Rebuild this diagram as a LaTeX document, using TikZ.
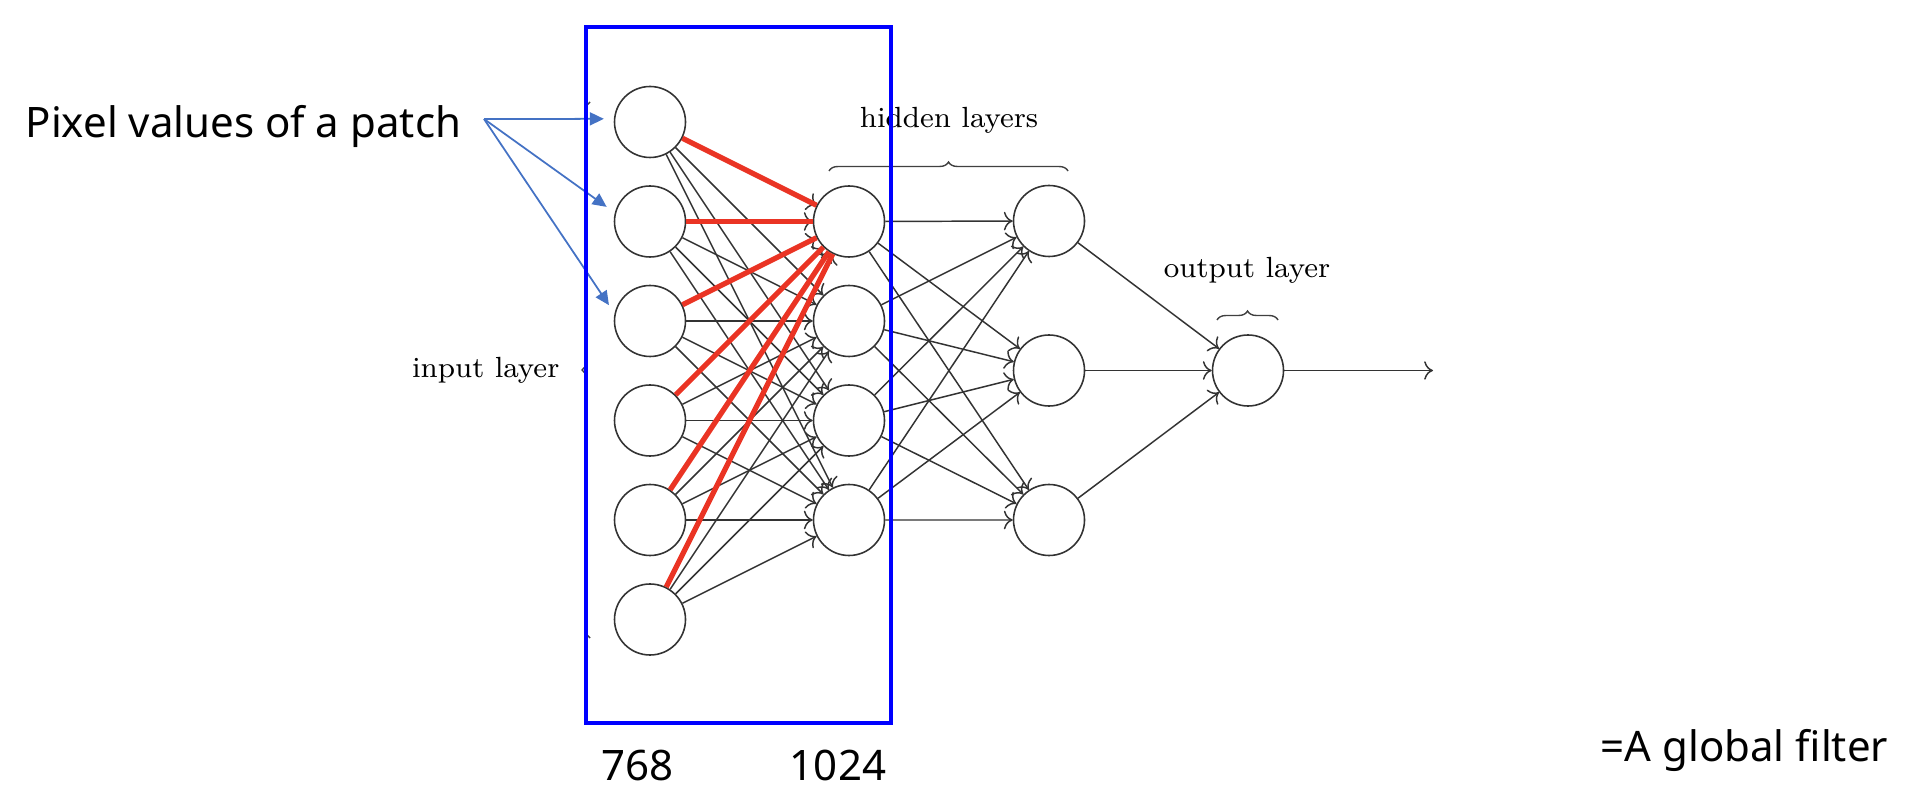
\documentclass[tikz,border=0pt]{standalone}
\usepackage{fontspec}
\usepackage{xcolor}
\usepackage{tikz}
\usetikzlibrary{arrows.meta,decorations.pathreplacing}
\newfontfamily\notosans{Noto Sans}
\definecolor{filterred}{RGB}{234,52,36}
\definecolor{patchblue}{RGB}{68,114,196}
\definecolor{boxblue}{RGB}{0,0,255}

\begin{document}
\begin{tikzpicture}[
        neuron/.style={circle, draw=black!80, line width=0.45pt, minimum size=0.71cm, inner sep=0pt},
        edge/.style={->, black!80, line width=0.42pt},
        filterline/.style={filterred, line width=1.5pt},
        patcharrow/.style={-{Triangle[length=0.14cm,width=0.13cm]}, patchblue, line width=0.5pt, shorten >=0.1cm},
        annot/.style={inner sep=0pt, font=\fontsize{8.3}{10}\selectfont},
        bigtext/.style={inner sep=0pt, font=\notosans\fontsize{11.95}{14}\selectfont},
        layerbrace/.style={decorate, decoration={brace, amplitude=0.09cm}, black!75, line width=0.4pt}
    ]
        \useasboundingbox (0,0) rectangle (19.18,7.88);

        % Input layer
        \foreach \i in {1,...,6}
            \node[neuron] (in-\i) at (6.50, 7.655-0.995*\i) {};

        % Hidden layers
        \foreach \j in {1,...,4}
            \node[neuron] (ha-\j) at (8.49, 6.66-0.995*\j) {};
        \foreach \k/\y in {1/5.67, 2/4.175, 3/2.68}
            \node[neuron] (hb-\k) at (10.49, \y) {};

        % Output layer
        \node[neuron] (out) at (12.48, 4.175) {};
        \coordinate (outend) at (14.33, 4.175);

        % Connections
        \foreach \i in {1,...,6}
            \foreach \j in {1,...,4}
                \draw[edge] (in-\i) -- (ha-\j);
        \foreach \j in {1,...,4}
            \foreach \k in {1,...,3}
                \draw[edge] (ha-\j) -- (hb-\k);
        \foreach \k in {1,...,3}
            \draw[edge] (hb-\k) -- (out);
        \draw[edge] (out) -- (outend);

        % Layer labels
        \draw[layerbrace, decoration={brace, amplitude=0.08cm}] (5.90,1.50) -- (5.90,6.86);
        \node[annot, anchor=base east] (inlbl) at (5.60,4.10) {input layer};
        \draw[layerbrace] (8.29,6.17) -- (10.68,6.17);
        \node[annot, anchor=base] (hidlbl) at (9.49,6.60) {hidden layers};
        \draw[layerbrace] (12.17,4.68) -- (12.78,4.68);
        \node[annot, anchor=base] (outlbl) at (12.47,5.10) {output layer};

        % Filter weights
        \foreach \i in {1,...,6}
            \draw[filterline] (in-\i) -- (ha-1);

        % Patch
        \node[bigtext, anchor=base west] (pixlbl) at (0.25,6.50) {Pixel values of a patch};
        \coordinate (src) at (4.84,6.69);
        \draw[patcharrow] (src) -- (in-1.175);
        \draw[patcharrow] (src) -- (in-2.166);
        \draw[patcharrow] (src) -- (in-3.168);

        % Filter box
        \draw[boxblue, line width=1.15pt] (5.86,7.61) rectangle (8.91,0.65);
        \node[bigtext, anchor=base] (dimin) at (6.375,0.08) {768};
        \node[bigtext, anchor=base] (dimhid) at (8.38,0.08) {1024};
        \node[bigtext, anchor=base west] (gfilter) at (16.00,0.263) {=A global filter};
    \end{tikzpicture}
\end{document}
